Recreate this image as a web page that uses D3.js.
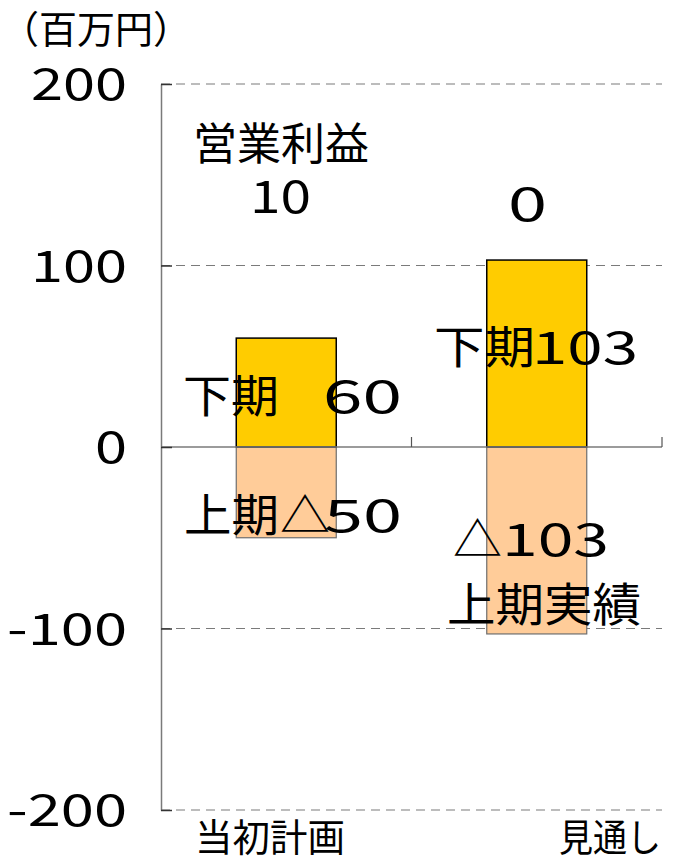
<!DOCTYPE html>
<html>
<head>
<meta charset="utf-8">
<script src="https://cdn.jsdelivr.net/npm/d3@7"></script>
<style>
  html, body { margin: 0; padding: 0; background: #fff; }
  svg { display: block; }
  text { font-family: "Noto Sans CJK JP", "Noto Sans", sans-serif; fill: #000; }
</style>
</head>
<body>
<svg id="chart" width="675" height="856"></svg>
<script>
// Operating profit breakdown (百万円): first half (上期) and second half (下期)
const categories = ["当初計画", "見通し"];
const secondHalf = [60, 103];      // 下期
const firstHalf = [-50, -103];     // 上期
const operatingProfit = [10, 0];   // 営業利益
const yTicks = [-200, -100, 0, 100, 200];
const unitLabel = "（百万円）";

const svg = d3.select("#chart");
const plot = { left: 161, right: 662, top: 84, bottom: 810 };

const x = d3.scaleBand().domain(categories).range([plot.left, plot.right]);
const y = d3.scaleLinear().domain([-200, 200]).range([plot.bottom, plot.top]);
const barW = 100;
const cx = c => x(c) + x.bandwidth() / 2;

// stretch a text element to a given advance width
function fit(sel, w) {
  return sel.attr("textLength", w).attr("lengthAdjust", "spacingAndGlyphs");
}

// dashed gridlines (zero line drawn solid)
svg.append("g").selectAll("line")
  .data(yTicks.filter(d => d !== 0))
  .join("line")
  .attr("x1", plot.left).attr("x2", plot.right)
  .attr("y1", d => y(d)).attr("y2", d => y(d))
  .attr("stroke", "#7a7a7a").attr("stroke-width", 1.2)
  .attr("stroke-dasharray", "9,6");

// bars: second half above zero, first half below
const bars = svg.append("g");
bars.selectAll("rect.first")
  .data(categories)
  .join("rect")
  .attr("class", "first")
  .attr("x", d => cx(d) - barW / 2)
  .attr("width", barW)
  .attr("y", y(0))
  .attr("height", (d, i) => y(firstHalf[i]) - y(0))
  .attr("fill", "#FFCC99")
  .attr("stroke", "#6e6e6e").attr("stroke-width", 1.2);

bars.selectAll("rect.second")
  .data(categories)
  .join("rect")
  .attr("class", "second")
  .attr("x", d => cx(d) - barW / 2)
  .attr("width", barW)
  .attr("y", (d, i) => y(secondHalf[i]))
  .attr("height", (d, i) => y(0) - y(secondHalf[i]))
  .attr("fill", "#FFCC00")
  .attr("stroke", "#000").attr("stroke-width", 1.5);

// zero line with category separator ticks
const xAxis = svg.append("g").attr("transform", `translate(0,${y(0)})`);
xAxis.append("line")
  .attr("x1", plot.left).attr("x2", plot.right)
  .attr("stroke", "#7a7a7a").attr("stroke-width", 1.5);
xAxis.selectAll("line.sep")
  .data(categories)
  .join("line")
  .attr("class", "sep")
  .attr("x1", d => x(d) + x.bandwidth()).attr("x2", d => x(d) + x.bandwidth())
  .attr("y1", -10).attr("y2", 0)
  .attr("stroke", "#555").attr("stroke-width", 1.2);

// y axis
const yAxis = svg.append("g")
  .attr("transform", `translate(${plot.left},0)`)
  .call(d3.axisLeft(y).tickValues(yTicks).tickFormat(d => String(d))
    .tickSizeInner(-11).tickSizeOuter(0).tickPadding(34));
yAxis.select(".domain").attr("stroke", "#7a7a7a").attr("stroke-width", 1.5);
yAxis.selectAll(".tick line").attr("stroke", "#333").attr("stroke-width", 1.5);
yAxis.selectAll(".tick text")
  .attr("font-size", 44)
  .attr("font-family", "'Noto Sans CJK JP', sans-serif")
  .attr("fill", "#000")
  .attr("dy", "0.36em")
  .each(function(d) {
    const s = String(d);
    let w = 0;
    for (const ch of s) w += ch === "-" ? 24 : 32;
    fit(d3.select(this), w);
  });

// unit label
fit(svg.append("text")
  .attr("x", 1).attr("y", 43)
  .attr("font-size", 38)
  .text(unitLabel), 190);

// annotation labels, each made of one or more stretched pieces
const labels = [
  { y: 160, fs: 44, parts: [{ t: "営業利益", x: 193, w: 176 }] },
  { y: 213, fs: 45, parts: [{ t: String(operatingProfit[0]), x: 250, w: 61 }] },
  { y: 221, fs: 46, parts: [{ t: String(operatingProfit[1]), x: 508, w: 39 }] },
  { y: 413, fs: 45, parts: [{ t: "下期", x: 183, w: 96 }, { t: String(secondHalf[0]), x: 323, w: 79 }] },
  { y: 364, fs: 45, parts: [{ t: "下期", x: 434, w: 101 }, { t: String(secondHalf[1]), x: 532, w: 106 }] },
  { y: 532, fs: 45, parts: [{ t: "上期", x: 184, w: 95 }, { t: "△", x: 280, w: 50 }, { t: String(-firstHalf[0]), x: 324, w: 78 }] },
  { y: 556, fs: 45, parts: [{ t: "△", x: 453, w: 49 }, { t: String(-firstHalf[1]), x: 502, w: 107 }] },
  { y: 621, fs: 46, parts: [{ t: "上期実績", x: 447, w: 194 }] },
  { y: 851, fs: 38, parts: [{ t: categories[0], x: 195, w: 150 }] },
  { y: 851, fs: 38, parts: [{ t: categories[1], x: 559, w: 102 }] }
];
const labelLayer = svg.append("g");
labels.forEach(l => {
  l.parts.forEach(p => {
    fit(labelLayer.append("text")
      .attr("x", p.x).attr("y", l.y)
      .attr("font-size", l.fs)
      .text(p.t), p.w);
  });
});
</script>
</body>
</html>
